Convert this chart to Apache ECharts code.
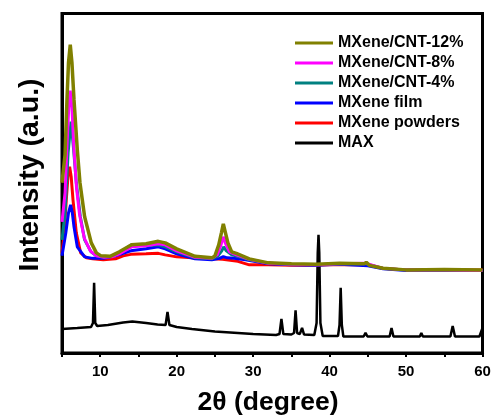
<!DOCTYPE html>
<html>
<head>
<meta charset="utf-8">
<script src="https://cdn.jsdelivr.net/npm/echarts@6/dist/echarts.min.js"></script>
<style>
  html, body { margin: 0; padding: 0; background: #fff; }
  #chart { width: 495px; height: 416px; }
</style>
</head>
<body>
<div id="chart"></div>
<script>
// XRD patterns: [2θ (degree), intensity (a.u., stacked offsets)]
const cnt12 = [
  [5.0,170],[5.4,198],[5.65,253],[5.85,290],[6.08,308],[6.3,290],[6.57,253],[7.0,203],
  [7.35,170],[7.96,136],[8.83,110],[9.5,100],[10.1,97],[11.3,96.5],[12.5,101],[14.1,108],
  [16,109],[17.6,111.5],[18.5,110],[20,104],[22.4,96.5],[24.6,95],[25.0,97],[25.5,108],
  [25.85,120],[26.1,129],[26.35,121],[26.7,110],[27.2,101],[27.8,99.5],[29.5,94],[32,90],
  [35,89],[38.3,88.5],[41.3,89.5],[44.5,89],[44.8,90.5],[45.2,87.5],[47,84.7],[50,83],
  [55,83.5],[60,83]
];
const cnt8 = [
  [5.0,131],[5.4,160],[5.7,215],[5.9,248],[6.08,262],[6.3,245],[6.55,205],[6.9,165],
  [7.3,138],[7.9,115],[8.7,102],[9.5,97],[10.5,95.5],[11.5,96],[12.5,99],[14.1,106],
  [16,107],[17.6,109],[18.5,108],[20,102],[22.4,95.5],[24.6,94.5],[25.3,98],[25.8,108],
  [26.1,116],[26.4,109],[26.9,101],[27.8,98],[29.5,93.5],[32,89.5],[35,88.5],[38.3,88],
  [41.3,89],[44.8,89.5],[47,84.5],[50,83],[55,83],[60,82.5]
];
const cnt4 = [
  [5.0,113],[5.4,140],[5.8,200],[6.18,231],[6.52,203],[6.87,170],[7.4,136],[7.96,113],
  [8.8,101],[9.5,97],[10.5,95.5],[11.5,96.5],[12.5,100],[14.1,108],[16,107],[17.6,108],
  [18.5,106],[20,101],[22.4,95],[24.6,94],[25.4,97],[25.9,102],[26.15,106],[26.5,102],
  [27.2,98],[28,96.5],[29.5,93],[32,89.5],[35,88.5],[38.3,88],[41.3,89],[44.8,89],
  [47,84.5],[50,83],[55,83],[60,82.5]
];
const film = [
  [5.0,97],[5.13,103],[5.5,120],[5.85,140],[6.13,148],[6.35,140],[6.57,126],[7.0,106],
  [7.96,96],[9,94.5],[10.4,94.7],[12,97],[14,102],[16,104],[17.6,106],[18.5,104],
  [20,99],[22.4,94],[24.6,93],[25.6,94.5],[26.1,96.3],[26.6,95],[27.5,94.5],[29,93],
  [32,89],[35,88],[38,87.5],[41.3,88.5],[45,87],[47,84],[50,82.5],[55,82.5],[60,82.5]
];
const powders = [
  [5.0,100],[5.3,120],[5.56,153],[5.8,178],[6.0,186],[6.2,176],[6.44,153],[6.87,120],
  [7.44,100],[8.2,95],[9,94],[10.4,93],[12,94],[13,97],[14,98.5],[16,99],[17.6,99.5],
  [18.5,98],[20,96],[22,95],[24.6,94],[26,93.5],[28,91.5],[29.5,88],[32,88],[35,87.5],
  [38,87.5],[40,88],[45,88],[47,84.5],[50,83],[55,83],[60,83]
];
const max = [
  [5,24],[7,25],[8.8,26],[9.05,30],[9.2,70],[9.35,30],[9.6,27],[11,28],[13,30.5],
  [14.2,31.5],[16,30],[17.5,28.5],[18.55,28],[18.8,41],[19.05,28],[20,26],[22,24],
  [25,21.5],[28,20],[30,19],[33,18],[33.45,19],[33.7,34],[33.95,19],[35.0,18.5],
  [35.35,20],[35.55,42.5],[35.75,20],[36.1,19],[36.4,25],[36.65,18.5],[38.0,18],
  [38.3,30],[38.45,100],[38.55,118],[38.65,100],[38.8,30],[39.1,17],[41.1,17],
  [41.3,28],[41.45,65],[41.6,28],[41.8,16.5],[44.45,16.5],[44.7,20],[44.95,16.5],
  [47.85,16.5],[48.1,25],[48.35,16.5],[51.8,16.5],[52.0,20],[52.2,16.5],[55.8,16.5],
  [56.1,27],[56.4,16.5],[59.6,16.5],[60,25]
];
const xTickLabels = [10, 20, 30, 40, 50, 60];
const legendNames = ['MXene/CNT-12%', 'MXene/CNT-8%', 'MXene/CNT-4%', 'MXene film', 'MXene powders', 'MAX'];

const FONT = '"Liberation Sans", Arial, sans-serif';

function line(name, data, color, width) {
  return {
    name, type: 'line', data, symbol: 'none', smooth: false,
    lineStyle: { color, width }, itemStyle: { color },
    emphasis: { disabled: true }
  };
}

const chart = echarts.init(document.getElementById('chart'), null, { renderer: 'canvas' });
chart.setOption({
  animation: false,
  backgroundColor: '#fff',
  grid: {
    left: 62, right: 12.5, top: 13.5, bottom: 63,
    show: true, borderColor: '#000', borderWidth: 3, backgroundColor: 'transparent'
  },
  xAxis: {
    type: 'value', min: 5, max: 60, interval: 5,
    axisLine: { show: true, lineStyle: { color: '#000', width: 3 } },
    axisTick: { show: true, inside: false, length: 4, lineStyle: { color: '#000', width: 2 } },
    splitLine: { show: false },
    axisLabel: {
      margin: 11, color: '#000', fontFamily: FONT, fontWeight: 'bold', fontSize: 15,
      formatter: v => (xTickLabels.indexOf(v) >= 0 ? String(v) : '')
    }
  },
  yAxis: {
    type: 'value', min: 0, max: 339,
    axisLine: { show: true, lineStyle: { color: '#000', width: 3 } },
    axisTick: { show: false }, axisLabel: { show: false }, splitLine: { show: false }
  },
  legend: {
    orient: 'vertical', left: 295, top: 35, padding: 0,
    icon: 'rect', itemWidth: 38, itemHeight: 3, itemGap: 4,
    data: legendNames,
    textStyle: { color: '#000', fontFamily: FONT, fontWeight: 'bold', fontSize: 16, lineHeight: 14, padding: [0, 0, 0, 0] }
  },
  graphic: [
    {
      type: 'text', x: 30, y: 175, rotation: Math.PI / 2,
      style: {
        text: 'Intensity (a.u.)', fill: '#000', align: 'center', verticalAlign: 'middle',
        font: 'bold 28.5px ' + FONT
      }
    },
    {
      type: 'text', x: 268, y: 403,
      style: {
        text: '2θ (degree)', fill: '#000', align: 'center', verticalAlign: 'middle',
        font: 'bold 26.5px ' + FONT
      }
    }
  ],
  series: [
    line('MAX', max, '#000000', 2.5),
    line('MXene powders', powders, '#ff0000', 3),
    line('MXene film', film, '#0000ff', 3),
    line('MXene/CNT-4%', cnt4, '#008080', 3),
    line('MXene/CNT-8%', cnt8, '#ff00ff', 3),
    line('MXene/CNT-12%', cnt12, '#808000', 3.5)
  ]
});
</script>
</body>
</html>
